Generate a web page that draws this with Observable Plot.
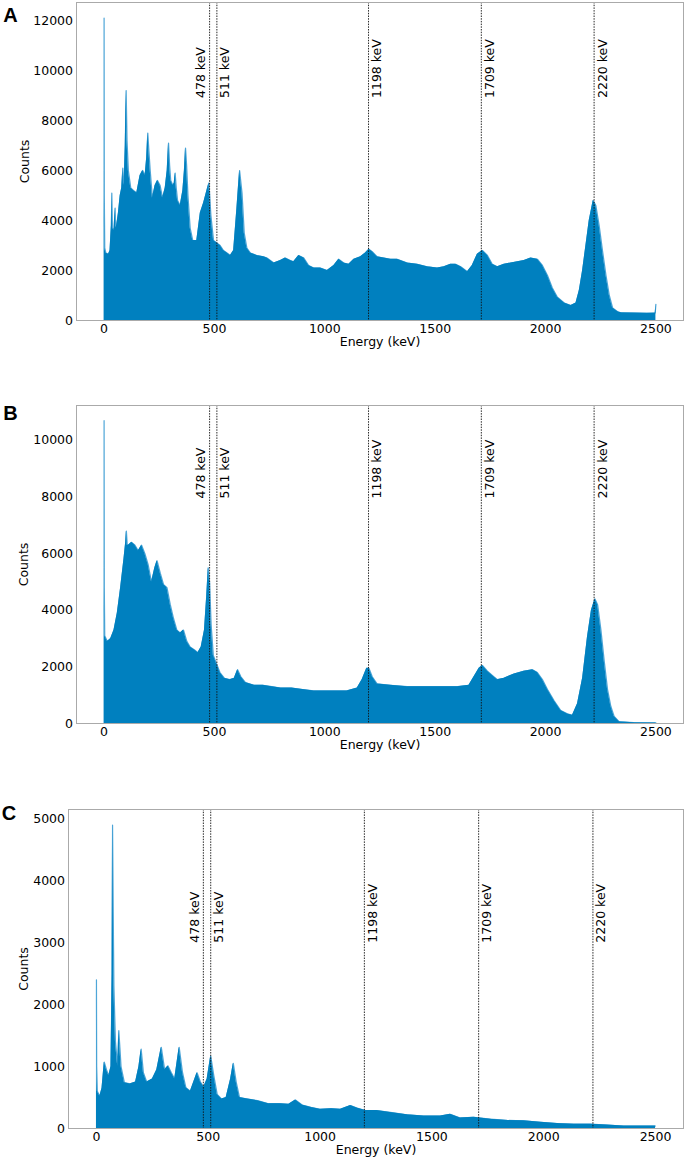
<!DOCTYPE html>
<html>
<head>
<meta charset="utf-8">
<script src="https://cdn.jsdelivr.net/npm/d3@7"></script>
<script src="https://cdn.jsdelivr.net/npm/@observablehq/plot@0.6"></script>
<style>
  body { margin: 0; background: #fff; }
  #chart { width: 685px; }
  #chart svg { display: block; }
</style>
</head>
<body>
<div id="chart"></div>
<script>
// ---- Data (energy in keV, counts) ----
const aEnergy = [0, 1, 3, 8, 20, 27, 33, 35, 38, 45,
  50, 53, 57, 65, 73, 80, 85, 88, 91, 96,
  100, 104, 110, 121, 133, 148, 163, 175, 186, 193,
  198, 203, 209, 219, 231, 242, 254, 265, 277, 286,
  292, 297, 302, 312, 318, 322, 327, 333, 345, 357,
  364, 369, 374, 380, 390, 402, 420, 436, 451, 466,
  475, 484, 496, 511, 526, 541, 557, 572, 587, 602,
  614, 625, 635, 647, 663, 692, 723, 738, 769, 799,
  821, 844, 859, 882, 905, 927, 950, 980, 1011, 1041,
  1063, 1086, 1109, 1132, 1162, 1184, 1200, 1215, 1237, 1268,
  1298, 1328, 1374, 1419, 1464, 1510, 1540, 1570, 1593, 1616,
  1646, 1668, 1691, 1714, 1737, 1759, 1782, 1812, 1843, 1873,
  1903, 1933, 1963, 1986, 2009, 2031, 2054, 2085, 2115, 2138,
  2153, 2168, 2183, 2198, 2216, 2228, 2243, 2258, 2274, 2289,
  2304, 2327, 2342, 2400, 2460, 2497, 2500];
const aCounts = [12100, 5000, 2900, 2700, 2650, 2800, 3800, 5100, 3700, 3600,
  4500, 3700, 3800, 4300, 5000, 5300, 6100, 5400, 5500, 7000,
  9200, 7200, 6000, 5300, 5200, 5100, 5800, 6000, 5800, 6500,
  7500, 6800, 6000, 4900, 5400, 5600, 5400, 4900, 5300, 6000,
  7100, 6200, 5600, 5400, 5500, 5900, 5300, 4800, 4600, 5200,
  6000, 6900, 6200, 5000, 3700, 3200, 3200, 4300, 4700, 5200,
  5500, 4200, 3200, 3100, 3000, 2800, 2700, 2600, 2800, 4500,
  6000, 5100, 3500, 2900, 2700, 2600, 2550, 2500, 2300, 2400,
  2500, 2400, 2350, 2600, 2500, 2200, 2100, 2100, 2000, 2200,
  2450, 2300, 2250, 2450, 2550, 2700, 2850, 2750, 2550, 2500,
  2450, 2450, 2300, 2250, 2150, 2100, 2150, 2250, 2250, 2150,
  1950, 2200, 2650, 2800, 2600, 2250, 2150, 2250, 2300, 2350,
  2400, 2500, 2450, 2200, 1800, 1300, 930, 700, 600, 700,
  1200, 2000, 3000, 4000, 4800, 4600, 3800, 2800, 1800, 1000,
  500, 350, 310, 300, 290, 300, 650];

const bEnergy = [0, 1, 3, 15, 30, 45, 60, 75, 90, 98,
  101, 105, 110, 125, 140, 155, 170, 185, 200, 215,
  230, 240, 255, 270, 285, 300, 315, 330, 345, 360,
  375, 390, 410, 425, 440, 455, 465, 472, 478, 485,
  495, 510, 525, 545, 570, 590, 605, 620, 640, 680,
  720, 760, 800, 850, 900, 950, 1000, 1050, 1100, 1147,
  1169, 1190, 1200, 1215, 1237, 1298, 1374, 1449, 1525, 1601,
  1653, 1676, 1699, 1714, 1737, 1759, 1782, 1812, 1858, 1903,
  1941, 1963, 1986, 2009, 2039, 2069, 2099, 2122, 2145, 2168,
  2190, 2208, 2224, 2236, 2251, 2266, 2281, 2296, 2311, 2334,
  2400, 2500];
const bCounts = [10700, 4800, 3100, 2900, 3000, 3300, 3900, 4800, 5800, 6400,
  6800, 6300, 6300, 6400, 6300, 6100, 6300, 6000, 5600, 5000,
  5500, 5750, 5300, 4900, 4800, 4200, 3700, 3300, 3200, 3300,
  2900, 2700, 2600, 2500, 2700, 3300, 4500, 5500, 5000, 3500,
  2400, 2100, 1800, 1600, 1550, 1600, 1900, 1650, 1450, 1350,
  1350, 1300, 1250, 1250, 1200, 1150, 1150, 1150, 1150, 1250,
  1550, 1950, 1950, 1650, 1400, 1350, 1300, 1300, 1300, 1300,
  1350, 1650, 1950, 2050, 1850, 1700, 1550, 1600, 1750, 1850,
  1900, 1800, 1550, 1200, 800, 460, 340, 290, 700, 1600,
  3050, 4000, 4400, 4200, 3300, 2200, 1200, 600, 250, 60,
  30, 20];

const cEnergy = [0, 1, 4, 15, 25, 35, 45, 55, 65, 70,
  72, 75, 78, 85, 95, 100, 105, 110, 125, 150,
  175, 190, 200, 210, 225, 250, 270, 290, 305, 320,
  335, 350, 370, 385, 400, 420, 440, 450, 465, 480,
  495, 511, 525, 540, 560, 580, 600, 612, 625, 640,
  670, 720, 770, 820, 860, 890, 920, 960, 1000, 1050,
  1091, 1136, 1165, 1203, 1254, 1314, 1389, 1464, 1538, 1582,
  1627, 1687, 1762, 1836, 1911, 1987, 2061, 2135, 2209, 2283,
  2358, 2500];
const cCounts = [2400, 1000, 600, 520, 650, 1070, 950, 850, 1000, 2500,
  4900, 3500, 2300, 1400, 1000, 1580, 1300, 1000, 740, 720,
  750, 1000, 1280, 900, 750, 800, 950, 1310, 950, 1010,
  900, 800, 1310, 900, 660, 600, 800, 900, 750, 670,
  800, 1170, 850, 550, 475, 500, 800, 1050, 750, 500,
  480, 450, 400, 400, 390, 460, 380, 340, 310, 320,
  310, 370, 330, 290, 290, 260, 220, 200, 200, 230,
  170, 180, 150, 130, 124, 100, 80, 70, 70, 55,
  40, 40];

const lineEnergies = [478, 511, 1198, 1709, 2220];
const lineLabels = ["478 keV", "511 keV", "1198 keV", "1709 keV", "2220 keV"];
const labelOnLeft = [true, false, false, false, false];

const panelLetters = ["A", "B", "C"];
const yMaxes = [12720, 11236, 5150];
const yTickSets = [
  [0, 2000, 4000, 6000, 8000, 10000, 12000],
  [0, 2000, 4000, 6000, 8000, 10000],
  [0, 1000, 2000, 3000, 4000, 5000]
];
const labelHeights = [8900, 7950, 3000];
const xTicks = [0, 500, 1000, 1500, 2000, 2500];
const xDomain = [-125, 2625];

// ---- Layout (styles only) ----
const layouts = [
  {height: 360, mt: 2, mb: 40, ml: 76, letterDx: -66, letterDy: 13, countsDx: -52},
  {height: 400, mt: 45, mb: 37, ml: 76, letterDx: -66, letterDy: 8.5, countsDx: -52.5},
  {height: 399, mt: 49, mb: 31, ml: 68, letterDx: -59.5, letterDy: 4.5, countsDx: -45}
];

const FILL = "#0080bf";
const EDGE = "#4fa6d8";
const FONT = "DejaVu Sans";

function panel(p, energy, counts) {
  if (energy.length !== counts.length) console.error("length mismatch panel", p, energy.length, counts.length);
  const L = layouts[p];
  const idx = d3.range(energy.length);
  const leftIdx = d3.range(lineEnergies.length).filter(i => labelOnLeft[i]);
  const rightIdx = d3.range(lineEnergies.length).filter(i => !labelOnLeft[i]);
  return Plot.plot({
    width: 685,
    height: L.height,
    marginTop: L.mt,
    marginBottom: L.mb,
    marginLeft: L.ml,
    marginRight: 2,
    style: {fontFamily: FONT, fontSize: "12.5px", color: "#000", background: "#fff"},
    x: {domain: xDomain, ticks: xTicks, tickSize: 0, tickPadding: 3.5, label: null, tickFormat: d3.format("d")},
    y: {domain: [0, yMaxes[p]], ticks: yTickSets[p], tickSize: 0, tickPadding: 3.5, label: null, tickFormat: d3.format("d")},
    marks: [
      Plot.lineY(idx, {x: i => energy[i], y: i => counts[i], stroke: EDGE, strokeWidth: 1.2, curve: "linear"}),
      Plot.areaY(idx, {x: i => energy[i], y: i => counts[i], fill: FILL, curve: "linear"}),
      Plot.ruleX(lineEnergies, {stroke: "#111", strokeWidth: 0.9, strokeDasharray: "1.5,1.2"}),
      Plot.text(leftIdx, {x: i => lineEnergies[i], y: () => labelHeights[p], text: i => lineLabels[i],
        rotate: -90, textAnchor: "start", lineAnchor: "middle", dx: -8.5, fontSize: 12.5, fontFamily: FONT, fill: "#000"}),
      Plot.text(rightIdx, {x: i => lineEnergies[i], y: () => labelHeights[p], text: i => lineLabels[i],
        rotate: -90, textAnchor: "start", lineAnchor: "middle", dx: 8.5, fontSize: 12.5, fontFamily: FONT, fill: "#000"}),
      Plot.text(["Counts"], {frameAnchor: "left", text: d => d, rotate: -90, dx: L.countsDx,
        textAnchor: "middle", lineAnchor: "middle", fontSize: 12.5, fontFamily: FONT, fill: "#000"}),
      Plot.text(["Energy (keV)"], {frameAnchor: "bottom", text: d => d, dy: 21,
        textAnchor: "middle", lineAnchor: "middle", fontSize: 12.5, fontFamily: FONT, fill: "#000"}),
      Plot.text([panelLetters[p]], {frameAnchor: "top-left", text: d => d, dx: L.letterDx, dy: L.letterDy,
        textAnchor: "middle", lineAnchor: "middle", fontSize: 20, fontWeight: "bold", fontFamily: "Liberation Sans", fill: "#000"}),
      Plot.frame({stroke: "#aaaaaa", strokeWidth: 1})
    ]
  });
}

const chart = document.getElementById("chart");
chart.appendChild(panel(0, aEnergy, aCounts));
chart.appendChild(panel(1, bEnergy, bCounts));
chart.appendChild(panel(2, cEnergy, cCounts));
</script>
</body>
</html>
